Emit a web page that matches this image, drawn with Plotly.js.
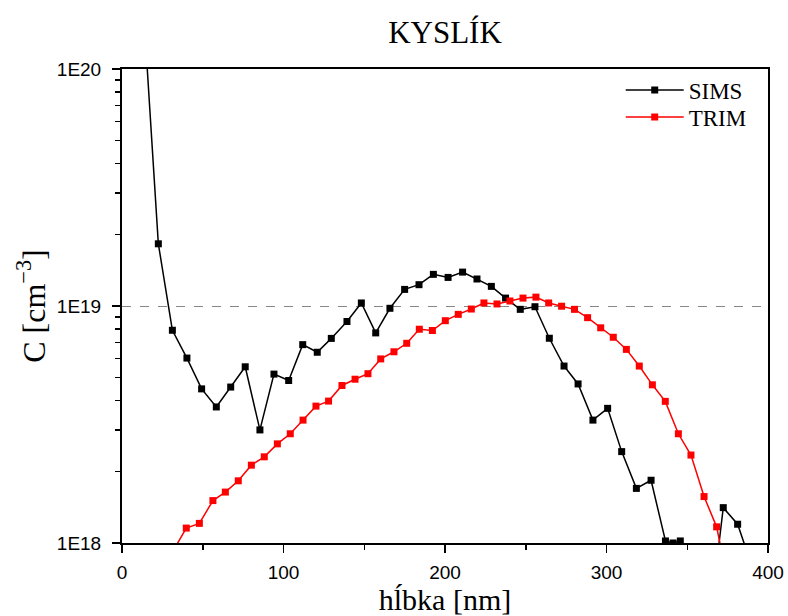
<!DOCTYPE html>
<html>
<head>
<meta charset="utf-8">
<script src="https://cdn.plot.ly/plotly-3.0.1.min.js"></script>
<style>html,body{margin:0;padding:0;background:#fff;}#chart{width:788px;height:616px;}</style>
</head>
<body>
<div id="chart"></div>
<script>
// SIMS measured profile (depth in nm, concentration in cm^-3)
var simsX = [13.5, 22.5, 31.2, 40.2, 49.3, 58.4, 67.3, 76.3, 85.4, 94.1, 103.2, 111.9, 120.9, 129.6, 139.3, 148.2, 157.1, 165.9, 175.0, 183.9, 192.8, 201.9, 210.9, 219.8, 228.7, 237.5, 246.6, 255.7, 264.6, 273.7, 282.4, 291.6, 300.7, 309.4, 318.5, 327.6, 336.5, 341.2, 345.7, 354.6, 363.5, 372.3, 381.2, 390.0];
var simsY = [1.7e20, 1.83e19, 7.9e18, 6.03e18, 4.47e18, 3.75e18, 4.55e18, 5.54e18, 3.0e18, 5.16e18, 4.85e18, 6.87e18, 6.38e18, 7.3e18, 8.6e18, 1.03e19, 7.7e18, 9.78e18, 1.175e19, 1.23e19, 1.36e19, 1.32e19, 1.39e19, 1.30e19, 1.21e19, 1.08e19, 9.68e18, 9.93e18, 7.31e18, 5.58e18, 4.69e18, 3.30e18, 3.70e18, 2.43e18, 1.70e18, 1.84e18, 1.02e18, 1.0e18, 1.02e18, 7e17, 4.4e17, 1.41e18, 1.20e18, 8e17];

// TRIM simulated profile
var trimX = [31.8, 39.8, 47.9, 56.3, 64.0, 72.0, 80.1, 88.1, 96.2, 104.2, 112.1, 120.1, 127.9, 136.2, 144.3, 152.3, 160.2, 168.4, 176.3, 184.1, 192.2, 200.2, 208.2, 216.3, 224.1, 232.2, 240.2, 248.3, 256.3, 264.2, 272.2, 280.2, 288.3, 296.4, 304.2, 312.3, 320.3, 328.4, 336.4, 344.5, 352.3, 360.4, 368.2, 376.2];
var trimY = [9.3e17, 1.156e18, 1.21e18, 1.51e18, 1.64e18, 1.83e18, 2.13e18, 2.31e18, 2.62e18, 2.89e18, 3.30e18, 3.78e18, 3.97e18, 4.62e18, 4.91e18, 5.18e18, 5.98e18, 6.41e18, 6.96e18, 7.98e18, 7.88e18, 8.67e18, 9.22e18, 9.71e18, 1.03e19, 1.02e19, 1.05e19, 1.08e19, 1.09e19, 1.03e19, 9.98e18, 9.68e18, 8.93e18, 8.09e18, 7.38e18, 6.56e18, 5.58e18, 4.65e18, 3.96e18, 2.89e18, 2.35e18, 1.57e18, 1.17e18, 6.3e17];

// Axis ticks
var xTickVals = [0, 100, 200, 300, 400];
var xTickText = ['0', '100', '200', '300', '400'];
var yTickVals = [1e18, 1e19, 1e20];
var yTickText = ['1E18', '1E19', '1E20'];
var seriesNames = ['SIMS', 'TRIM'];

var yMinor = [];
[1e18, 1e19].forEach(function (d) { for (var k = 2; k <= 9; k++) yMinor.push(k * d); });

var serif = 'Liberation Serif';
var sans = 'Liberation Sans';

var traces = [
  {x: simsX, y: simsY, name: seriesNames[0], type: 'scatter', mode: 'lines+markers', legend: 'legend',
   line: {color: '#000000', width: 1.5}, marker: {symbol: 'square', size: 7, color: '#000000'}},
  {x: trimX, y: trimY, name: seriesNames[1], type: 'scatter', mode: 'lines+markers', legend: 'legend2',
   line: {color: '#ff0000', width: 1.5}, marker: {symbol: 'square', size: 7, color: '#ff0000'}}
];

var legendFont = {family: serif, size: 23, color: '#000'};

var layout = {
  width: 788, height: 616,
  margin: {l: 122, r: 20, t: 69, b: 73},
  paper_bgcolor: '#ffffff', plot_bgcolor: '#ffffff',
  font: {family: serif, color: '#000'},
  title: {text: 'KYSLÍK', font: {family: serif, size: 31, color: '#000'}, x: 0.5, xref: 'paper', xanchor: 'center', y: 0.948, yanchor: 'middle'},
  showlegend: true,
  legend: {x: 0.772, xanchor: 'left', y: 0.9557, yanchor: 'middle', bgcolor: 'rgba(0,0,0,0)',
           font: legendFont, itemwidth: 58},
  legend2: {x: 0.772, xanchor: 'left', y: 0.8987, yanchor: 'middle', bgcolor: 'rgba(0,0,0,0)',
           font: legendFont, itemwidth: 58},
  xaxis: {
    type: 'linear', range: [0, 400],
    tickmode: 'array', tickvals: xTickVals, ticktext: xTickText,
    ticks: 'outside', ticklen: 8, tickwidth: 1.5, tickcolor: '#000', ticklabelstandoff: 3,
    minor: {tickmode: 'linear', tick0: 0, dtick: 50, ticks: 'outside', ticklen: 5, tickwidth: 1.5, tickcolor: '#000', showgrid: false},
    showline: true, linecolor: '#000', linewidth: 2, mirror: true,
    showgrid: false, zeroline: false,
    tickfont: {family: sans, size: 19, color: '#000'},
    title: {text: 'hĺbka [nm]', font: {family: serif, size: 30, color: '#000'}, standoff: 4}
  },
  yaxis: {
    type: 'log', range: [18, 20],
    tickmode: 'array', tickvals: yTickVals, ticktext: yTickText,
    ticks: 'outside', ticklen: 8, tickwidth: 1.5, tickcolor: '#000', ticklabelstandoff: 7,
    minor: {tickmode: 'array', tickvals: yMinor, ticks: 'outside', ticklen: 5, tickwidth: 1.5, tickcolor: '#000', showgrid: false},
    showline: true, linecolor: '#000', linewidth: 2, mirror: true,
    showgrid: true, gridcolor: '#888888', griddash: 'dash', gridwidth: 1, zeroline: false,
    tickfont: {family: sans, size: 19, color: '#000'},
    title: {text: 'C [cm<sup>−3</sup>]', font: {family: serif, size: 32, color: '#000'}, standoff: 2}
  }
};

Plotly.newPlot('chart', traces, layout, {displayModeBar: false, staticPlot: true});
</script>
</body>
</html>
